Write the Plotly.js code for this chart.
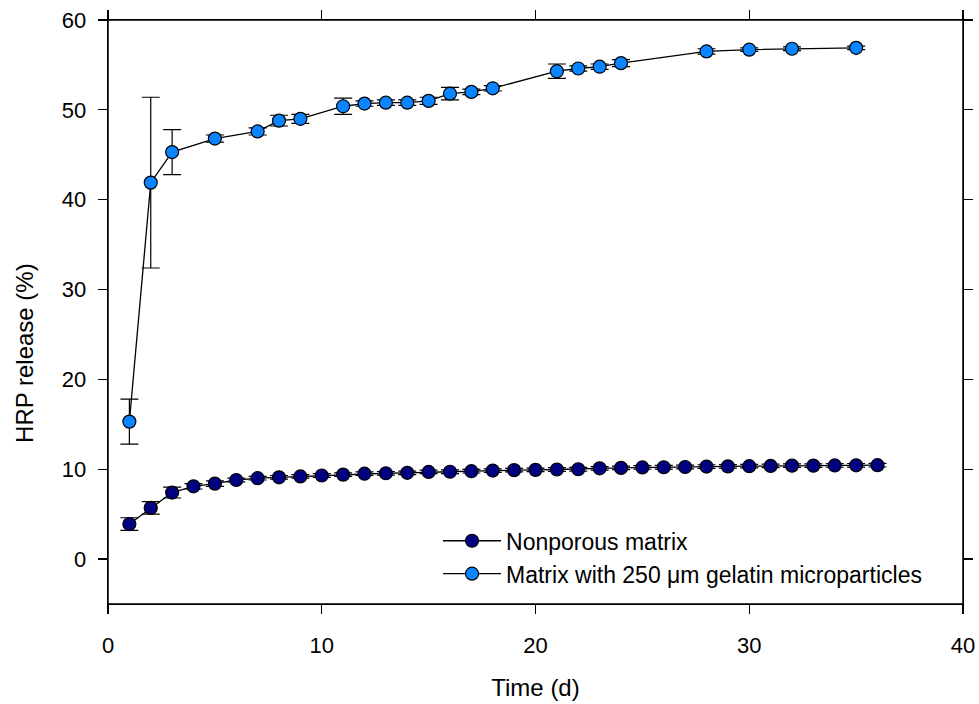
<!DOCTYPE html>
<html>
<head>
<meta charset="utf-8">
<script src="https://cdn.plot.ly/plotly-3.0.1.min.js"></script>
<style>html,body{margin:0;padding:0;background:#fff;}#chart{width:979px;height:704px;}</style>
</head>
<body>
<div id="chart"></div>
<script>
// Nonporous matrix
const daysNonporous = [1,2,3,4,5,6,7,8,9,10,11,12,13,14,15,16,17,18,19,20,21,22,23,24,25,26,27,28,29,30,31,32,33,34,35,36];
const releaseNonporous = [3.9,5.7,7.4,8.1,8.4,8.8,9.0,9.1,9.2,9.3,9.4,9.5,9.55,9.6,9.7,9.72,9.78,9.85,9.9,9.93,9.97,10.0,10.1,10.15,10.2,10.22,10.25,10.3,10.32,10.34,10.37,10.4,10.4,10.42,10.44,10.45];
const errNonporous = [0.7,0.7,0.6,0.3,0.3,0.2,0.2,0.2,0.2,0.2,0.2,0.2,0.2,0.2,0.2,0.2,0.2,0.2,0.2,0.2,0.2,0.2,0.2,0.2,0.2,0.2,0.2,0.2,0.2,0.2,0.2,0.2,0.2,0.2,0.2,0.2];

// Matrix with 250 um gelatin microparticles
const daysGelatin = [1,2,3,5,7,8,9,11,12,13,14,15,16,17,18,21,22,23,24,28,30,32,35];
const releaseGelatin = [15.3,41.9,45.3,46.8,47.6,48.8,49.0,50.4,50.7,50.8,50.8,51.0,51.8,52.0,52.4,54.3,54.6,54.8,55.2,56.5,56.7,56.8,56.9];
const errGelatin = [2.5,9.5,2.5,0.4,0.4,0.6,0.5,0.9,0.3,0.3,0.3,0.4,0.7,0.3,0.3,0.8,0.3,0.3,0.4,0.3,0.2,0.2,0.2];

const seriesNames = ["Nonporous matrix", "Matrix with 250 \u03BCm gelatin microparticles"];
const xTitle = "Time (d)";
const yTitle = "HRP release (%)";
const xTicks = [0,10,20,30,40];
const yTicks = [0,10,20,30,40,50,60];
const xRange = [0, 40];
const yRange = [-5, 60];

const FONT = "Liberation Sans, Arial, sans-serif";

function trace(x, y, err, name, color) {
  return {
    x: x, y: y, name: name, type: "scatter", mode: "lines+markers",
    line: {color: "#000", width: 1.3},
    marker: {color: color, size: 13, line: {color: "#000", width: 1.2}},
    error_y: {type: "data", array: err, visible: true, color: "#000", thickness: 1.2, width: 9}
  };
}

const data = [
  trace(daysNonporous, releaseNonporous, errNonporous, seriesNames[0], "#000080"),
  trace(daysGelatin, releaseGelatin, errGelatin, seriesNames[1], "#0a84ff")
];

const layout = {
  width: 979, height: 704,
  margin: {l: 108, r: 16, t: 20, b: 100},
  paper_bgcolor: "#fff", plot_bgcolor: "#fff",
  font: {family: FONT, size: 22, color: "#000"},
  showlegend: true,
  legend: {
    x: 0.386, y: 0.145, xanchor: "left", yanchor: "top",
    bgcolor: "rgba(0,0,0,0)", font: {family: FONT, size: 23, color: "#000"},
    tracegroupgap: 0, itemwidth: 58
  },
  shapes: [{
    type: "rect", xref: "paper", yref: "paper", x0: 0, x1: 1, y0: 0, y1: 1,
    line: {color: "#000", width: 1.5}, fillcolor: "rgba(0,0,0,0)", layer: "above"
  }],
  annotations: [{
    text: yTitle, xref: "paper", yref: "paper", x: -0.097, y: 0.43,
    xanchor: "center", yanchor: "middle", textangle: -90, showarrow: false,
    font: {family: FONT, size: 24, color: "#000"}
  }],
  xaxis: {
    range: xRange, tickvals: xTicks, ticktext: xTicks.map(String),
    showgrid: false, zeroline: false, showline: true, mirror: "all",
    linecolor: "#000", linewidth: 1.3, ticks: "outside", ticklen: 9, tickwidth: 1.2, tickcolor: "#000",
    tickfont: {family: FONT, size: 22}, ticklabelstandoff: 12,
    title: {text: xTitle, font: {family: FONT, size: 24}, standoff: 22}
  },
  yaxis: {
    range: yRange, tickvals: yTicks, ticktext: yTicks.map(String),
    showgrid: false, zeroline: false, showline: true, mirror: "all",
    linecolor: "#000", linewidth: 1.3, ticks: "outside", ticklen: 9, tickwidth: 1.2, tickcolor: "#000",
    tickfont: {family: FONT, size: 22}, ticklabelstandoff: 7
  }
};

Plotly.newPlot("chart", data, layout, {displayModeBar: false, staticPlot: true});
</script>
</body>
</html>
